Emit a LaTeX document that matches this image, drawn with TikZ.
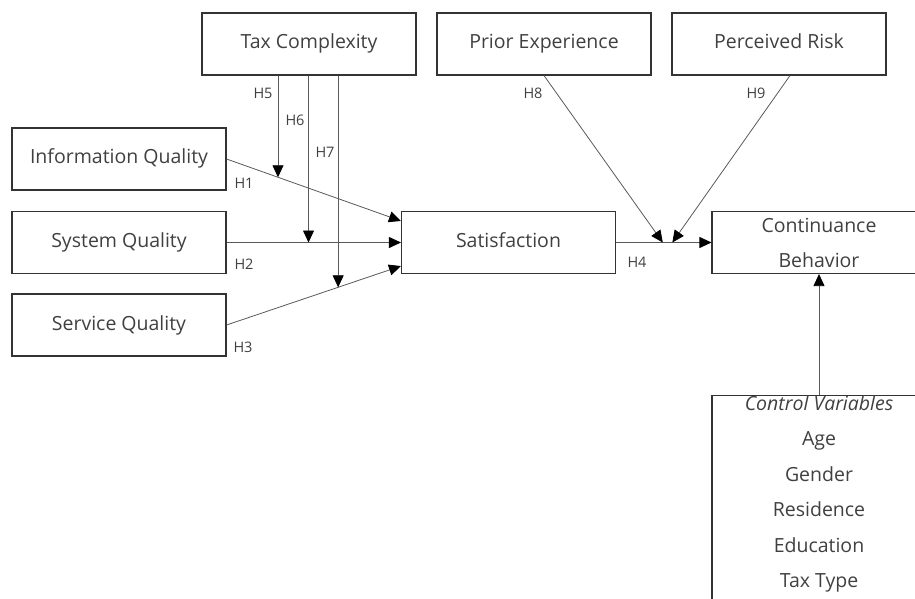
\documentclass[tikz,border=0pt]{standalone}
\usepackage{fontspec}
\setmainfont{Open Sans}
\usetikzlibrary{arrows.meta,calc}

\begin{document}
\begin{tikzpicture}[x=1pt,y=-1pt]
\tikzset{every node/.style={text=black!75}}
\tikzset{construct/.style={draw=black!80,line width=1.1pt,minimum width=214pt,minimum height=62pt,inner sep=0pt,font=\fontsize{19.5}{35}\selectfont,align=center}}
\tikzset{single/.style={construct,text height=14pt,text depth=4pt}}
\tikzset{hyp/.style={draw=black!65,line width=0.8pt,-{Triangle[length=12pt,width=11pt,black]}}}
\tikzset{hlabel/.style={font=\fontsize{14.5}{16}\selectfont,inner sep=0pt}}

\useasboundingbox (0,0) rectangle (915,599);
\clip (0,0) rectangle (915,599);

% constructs
\node[single] (tax)   at (309,44)    {Tax Complexity};
\node[single] (prior) at (544,44)    {Prior Experience};
\node[single] (risk)  at (779,44)    {Perceived Risk};
\node[single] (info)  at (119,159)   {Information Quality};
\node[single] (sys)   at (119,242.5) {System Quality};
\node[single] (serv)  at (119,325)   {Service Quality};
\node[single] (sat)   at (508.5,242.5) {Satisfaction};
\node[construct] (cont)  at (819,242.5) {Continuance\\Behavior};

% control variables
\node[construct,minimum height=230pt,anchor=north] (ctrl) at (819,395) {};
\node[font=\fontsize{19.5}{35}\selectfont\itshape,anchor=base] (cv0) at (819,410) {Control Variables};
\foreach \v [count=\i] in {Age,Gender,Residence,Education,Tax Type}
  \node[font=\fontsize{19.5}{35}\selectfont,anchor=base] (cv\i) at (819,410+35.5*\i) {\v};

% end points on satisfaction
\coordinate (sat1) at ([yshift=-10pt]sat.north west);
\coordinate (sat3) at ([yshift=8pt]sat.south west);

\draw[hyp] (info.east) -- (sat1);
\draw[hyp] (sys.east) -- (sat.west);
\draw[hyp] (serv.east) -- (sat3);
\draw[hyp] (sat.east) -- (cont.west);
\draw[hyp] (ctrl.north) -- (cont.south);

% moderating effects
\coordinate (m5) at ($(info.east)!0.295!(sat1)$);
\coordinate (m6) at ($(sys.east)!0.47!(sat.west)$);
\coordinate (m7) at ($(serv.east)!0.64!(sat3)$);
\coordinate (m8) at ($(sat.east)!0.49!(cont.west)$);
\coordinate (m9) at ($(sat.east)!0.59!(cont.west)$);

\draw[hyp] (tax.south -| m5) -- (m5);
\draw[hyp] (tax.south -| m6) -- (m6);
\draw[hyp] (tax.south -| m7) -- (m7);
\draw[hyp] (prior.south) -- (m8);
\draw[hyp] ([xshift=11pt]risk.south) -- (m9);

% labels
\node[hlabel] (h1) at (244,183) {H1};
\node[hlabel] (h2) at (244,264) {H2};
\node[hlabel] (h3) at (243,347) {H3};
\node[hlabel] (h4) at (637,262) {H4};
\node[hlabel] (h5) at (263,93)  {H5};
\node[hlabel] (h6) at (295,120) {H6};
\node[hlabel] (h7) at (325,152) {H7};
\node[hlabel] (h8) at (533,93)  {H8};
\node[hlabel] (h9) at (756,93)  {H9};

\end{tikzpicture}
\end{document}
